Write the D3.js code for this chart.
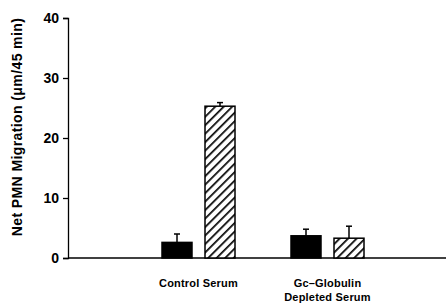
<!DOCTYPE html>
<html>
<head>
<meta charset="utf-8">
<script src="https://cdn.jsdelivr.net/npm/d3@7"></script>
<style>
  body { margin: 0; background: #fff; }
  text { font-family: "Liberation Sans", Arial, sans-serif; font-weight: bold; fill: #000; }
</style>
</head>
<body>
<div class="chart"></div>
<script>
const width = 446, height = 305

// data
const groups = ['Control Serum', 'Gc-Globulin Depleted Serum']
const groupLabels = [['Control Serum'], ['Gc\u2013Globulin', 'Depleted Serum']]
const series = ['solid', 'hatched']
const means = [[2.6, 25.3], [3.7, 3.3]]
const errs = [[1.4, 0.6], [1.1, 2.0]]
const yTicks = [0, 10, 20, 30, 40]

const svg = d3.select('.chart').append('svg')
    .attr('width', width)
    .attr('height', height)

const defs = svg.append('defs')
const pat = defs.append('pattern')
    .attr('id', 'hatch')
    .attr('patternUnits', 'userSpaceOnUse')
    .attr('width', 6)
    .attr('height', 6)
    .attr('patternTransform', 'rotate(45)')
pat.append('rect').attr('width', 6).attr('height', 6).attr('fill', '#fff')
pat.append('line')
    .attr('x1', 0).attr('y1', 0).attr('x2', 0).attr('y2', 6)
    .attr('stroke', '#000').attr('stroke-width', 3.4)

const y = d3.scaleLinear().domain([0, 40]).range([258, 18])

const x0 = d3.scaleBand().domain(groups).range([134, 392])
const x1 = d3.scaleBand().domain(series)
    .range([28, 101])
    .paddingInner(13 / 43)

const axisX = 68

// y axis
const yAxis = svg.append('g')
    .attr('transform', 'translate(' + axisX + ',0)')
    .call(d3.axisLeft(y).tickValues(yTicks).tickSize(5).tickPadding(4))
yAxis.select('.domain').attr('stroke-width', 1.3)
yAxis.selectAll('.tick line').attr('stroke-width', 1.3)
yAxis.selectAll('.tick text').style('font-size', '14px')

// baseline
svg.append('line')
    .attr('x1', axisX).attr('x2', width)
    .attr('y1', y(0)).attr('y2', y(0))
    .attr('stroke', '#000').attr('stroke-width', 1.6)

// bars
const g = svg.append('g').selectAll('g')
    .data(groups)
    .enter().append('g')
    .attr('transform', d => 'translate(' + x0(d) + ',0)')

g.each(function (grp, gi) {
    const sel = d3.select(this)
    series.forEach((s, si) => {
        const v = means[gi][si], e = errs[gi][si]
        const bx = x1(s), bw = x1.bandwidth()
        const cx = bx + bw / 2
        // error bar
        sel.append('line')
            .attr('x1', cx).attr('x2', cx)
            .attr('y1', y(v)).attr('y2', y(v + e))
            .attr('stroke', '#000').attr('stroke-width', 1.5)
        sel.append('line')
            .attr('x1', cx - 3).attr('x2', cx + 3)
            .attr('y1', y(v + e)).attr('y2', y(v + e))
            .attr('stroke', '#000').attr('stroke-width', 1.5)
        sel.append('rect')
            .attr('x', bx)
            .attr('y', y(v))
            .attr('width', bw)
            .attr('height', y(0) - y(v))
            .attr('fill', s === 'solid' ? '#000' : 'url(#hatch)')
            .attr('stroke', '#000')
            .attr('stroke-width', 1.5)
    })
})

// group labels
groups.forEach((grp, gi) => {
    const t = svg.append('text')
        .attr('x', x0(grp) + x0.bandwidth() / 2)
        .attr('y', 287)
        .style('font-size', '11px')
        .style('letter-spacing', '0.2px')
        .style('text-anchor', 'middle')
    groupLabels[gi].forEach((line, li) => {
        t.append('tspan')
            .attr('x', x0(grp) + x0.bandwidth() / 2)
            .attr('dy', li === 0 ? 0 : 14)
            .text(line)
    })
})

// y label
svg.append('text')
    .attr('transform', 'translate(22,' + 127 + ') rotate(-90)')
    .style('font-size', '14px')
    .style('letter-spacing', '0.4px')
    .style('text-anchor', 'middle')
    .text('Net PMN Migration (\u03bcm/45 min)')
</script>
</body>
</html>
